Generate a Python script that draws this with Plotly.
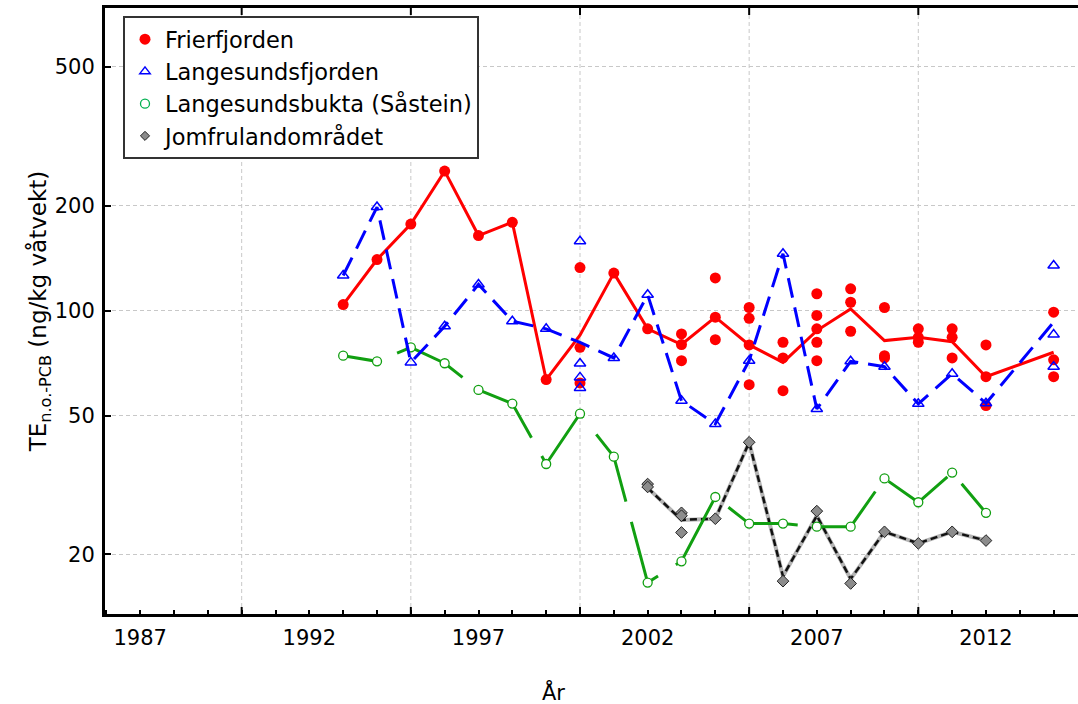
import plotly.graph_objects as go

# ---------------- data ----------------
line_years = [1993, 1994, 1995, 1996, 1997, 1998, 1999, 2000, 2001, 2002, 2003,
              2004, 2005, 2006, 2007, 2008, 2009, 2010, 2011, 2012, 2014]

# Frierfjorden: yearly mean line + individual samples
fr_line = [104, 140, 177, 251, 164, 179, 63.4, 85, 128, 88.6, 79.9,
           95.7, 79.7, 71, 87.6, 101, 82, 83.8, 81.4, 64.6, 75.9]
fr_pts_year = [1993, 1994, 1995, 1996, 1997, 1998, 1999,
               2000, 2000, 2000, 2001, 2002,
               2003, 2003, 2003, 2004, 2004, 2004,
               2005, 2005, 2005, 2005, 2006, 2006, 2006,
               2007, 2007, 2007, 2007, 2007, 2008, 2008, 2008,
               2009, 2009, 2009, 2010, 2010, 2010, 2011, 2011, 2011,
               2012, 2012, 2012, 2014, 2014, 2014]
fr_pts_val = [104, 140, 177, 251, 164, 179, 63.4,
              132.8, 78.4, 62, 128, 88.6,
              85.7, 79.9, 71.8, 124, 95.7, 82.5,
              102, 95, 79.7, 61.3, 81.1, 73.1, 58.9,
              111.7, 96.8, 88.6, 81.1, 71.8, 115.4, 105.6, 87.2,
              102, 74.2, 73.1, 88.6, 83.8, 81.1, 88.6, 83.8, 73.1,
              79.7, 64.6, 53.4, 98.9, 72.2, 64.6]

# Langesundsfjorden
lf_line = [126, 198, 71, 90.1, 118.8, 93.2, 88.6, 81, 73.1, 111, 55.1,
           47.3, 71.8, 145.5, 52.2, 71.5, 69.0, 54.0, 65.9, 54.2, 92.6]
lf_pts_year = [1993, 1994, 1995, 1996, 1997, 1998, 1999,
               2000, 2000, 2000, 2000, 2001, 2002, 2003, 2004, 2005,
               2006, 2007, 2008, 2009, 2010, 2011, 2012, 2014, 2014, 2014]
lf_pts_val = [126, 198, 71, 90.1, 118.8, 93.2, 88.6,
              158, 70.5, 64.3, 60, 73.1, 111, 55.1, 47.3, 71.8,
              145.5, 52.2, 71.5, 69.0, 54.0, 65.9, 54.2, 134.6, 85.3, 69]

# Langesundsbukta (Såstein)
lb_years = [1993, 1994, 1995, 1996, 1997, 1998, 1999, 2000, 2001, 2002,
            2003, 2004, 2005, 2006, 2007, 2008, 2009, 2010, 2011, 2012]
lb_vals = [74.2, 71.5, 78.4, 70.6, 59.2, 54.1, 36.3, 50.6, 38.1, 16.6,
           19.1, 29.2, 24.5, 24.5, 24.0, 24.0, 33.0, 28.2, 34.3, 26.3]

# Jomfrulandområdet
jm_years = [2002, 2003, 2004, 2005, 2006, 2007, 2008, 2009, 2010, 2011, 2012]
jm_line = [31.0, 25.1, 25.3, 41.9, 17.3, 25.8, 17.0, 23.2, 21.5, 23.2, 21.9]
jm_pts_year = [2002, 2002, 2003, 2003, 2003, 2004, 2005, 2006, 2007, 2008,
               2009, 2010, 2011, 2012]
jm_pts_val = [31.8, 31.2, 26.3, 25.8, 23.1, 25.3, 41.9, 16.75, 26.6, 16.5,
              23.2, 21.5, 23.2, 21.9]

label_years = [1987, 1992, 1997, 2002, 2007, 2012]
grid_years = [1990, 1995, 2000, 2005, 2010]
all_years = list(range(1986, 2015))
y_ticks = [20, 50, 100, 200, 500]

names = ["Frierfjorden", "Langesundsfjorden", "Langesundsbukta (Såstein)",
         "Jomfrulandområdet"]
x_title = "År"
y_title = "TE<sub>n.o.-PCB</sub> (ng/kg våtvekt)"

# ---------------- styling ----------------
FONT = "DejaVu Sans"
RED = "#ff0000"
BLUE = "#0000ff"
GREEN = "#119f11"
X_RANGE = [1985.96, 2014.72]
Y_RANGE = [1.1299, 2.8673]
GRID = "#c8c8c8"
green_dash = "35px,21px," + ",".join(["75px,21px"] * 20)

fig = go.Figure()

# legend-only entries (marker symbols as in the reference legend)
fig.add_trace(go.Scatter(x=[None], y=[None], mode="markers", name=names[0],
                         marker=dict(symbol="circle", size=11, color=RED)))
fig.add_trace(go.Scatter(x=[None], y=[None], mode="markers", name=names[1],
                         marker=dict(symbol="triangle-up-open", size=9, color=BLUE,
                                     line=dict(width=1.5, color=BLUE))))
fig.add_trace(go.Scatter(x=[None], y=[None], mode="markers", name=names[2],
                         marker=dict(symbol="circle", size=9, color="white",
                                     line=dict(width=1.3, color="#00b050"))))
fig.add_trace(go.Scatter(x=[None], y=[None], mode="markers", name=names[3],
                         marker=dict(symbol="diamond", size=7, color="#8c8c8c",
                                     line=dict(width=1, color="#222222"))))

# Jomfrulandområdet
fig.add_trace(go.Scatter(x=jm_years, y=jm_line, mode="lines", showlegend=False,
                         line=dict(color="#b4b4b4", width=4)))
fig.add_trace(go.Scatter(x=jm_years, y=jm_line, mode="lines", showlegend=False,
                         line=dict(color="#111111", width=2.5, dash="7px,4px")))
fig.add_trace(go.Scatter(x=jm_pts_year, y=jm_pts_val, mode="markers", showlegend=False,
                         marker=dict(symbol="diamond", size=9, color="#8c8c8c",
                                     line=dict(width=1, color="#222222"))))

# Langesundsbukta
fig.add_trace(go.Scatter(x=lb_years, y=lb_vals, mode="lines", showlegend=False,
                         line=dict(color=GREEN, width=3, dash=green_dash)))
fig.add_trace(go.Scatter(x=lb_years, y=lb_vals, mode="markers", showlegend=False,
                         marker=dict(symbol="circle", size=9, color="white",
                                     line=dict(width=1.3, color=GREEN))))

# Frierfjorden
fig.add_trace(go.Scatter(x=line_years, y=fr_line, mode="lines", showlegend=False,
                         line=dict(color=RED, width=3)))
fig.add_trace(go.Scatter(x=fr_pts_year, y=fr_pts_val, mode="markers", showlegend=False,
                         marker=dict(symbol="circle", size=11, color=RED)))

# Langesundsfjorden
fig.add_trace(go.Scatter(x=line_years, y=lf_line, mode="lines", showlegend=False,
                         line=dict(color=BLUE, width=3, dash="20px,10px")))
fig.add_trace(go.Scatter(x=lf_pts_year, y=lf_pts_val, mode="markers", showlegend=False,
                         marker=dict(symbol="triangle-up-open", size=10, color=BLUE,
                                     line=dict(width=1.5, color=BLUE))))

# vertical grid lines + long major ticks (bottom and top) at the grid years
shapes = []
for gy in grid_years:
    shapes.append(dict(type="line", xref="x", yref="paper", x0=gy, x1=gy, y0=0, y1=1,
                       layer="below", line=dict(color=GRID, width=1, dash="4px,3px")))
    shapes.append(dict(type="line", xref="x", yref="paper", ysizemode="pixel", yanchor=0,
                       x0=gy, x1=gy, y0=0, y1=7, layer="above",
                       line=dict(color="black", width=2)))
    shapes.append(dict(type="line", xref="x", yref="paper", ysizemode="pixel", yanchor=1,
                       x0=gy, x1=gy, y0=0, y1=-7, layer="above",
                       line=dict(color="black", width=2)))

fig.update_layout(
    width=1078, height=704, autosize=False,
    margin=dict(l=105, r=0, t=8, b=90),
    paper_bgcolor="white", plot_bgcolor="white",
    font=dict(family=FONT, size=21, color="black"),
    showlegend=True,
    legend=dict(x=(123 - 105) / 973, y=(614 - 16) / 606, xanchor="left", yanchor="top",
                bgcolor="white", bordercolor="#333333", borderwidth=2,
                font=dict(family=FONT, size=22.5, color="black")),
    xaxis=dict(range=X_RANGE, tickmode="array", tickvals=label_years,
               ticktext=[str(v) for v in label_years],
               ticks="inside", ticklen=4, tickwidth=2, tickcolor="black",
               showgrid=False, zeroline=False, showline=True, linewidth=3,
               linecolor="black", mirror=True, ticklabelstandoff=3,
               tickfont=dict(family=FONT, size=21),
               minor=dict(tickmode="array", tickvals=all_years, ticks="inside",
                          ticklen=4, tickwidth=2, tickcolor="black", showgrid=False)),
    yaxis=dict(type="log", range=Y_RANGE, tickmode="array", tickvals=y_ticks,
               ticktext=[str(v) for v in y_ticks], ticks="inside", ticklen=6,
               tickwidth=2, tickcolor="black", showgrid=True, gridcolor=GRID,
               gridwidth=1, griddash="4px,3px", zeroline=False, showline=True,
               linewidth=3, linecolor="black", mirror=False, ticklabelstandoff=3,
               tickfont=dict(family=FONT, size=21),
               title=dict(text=y_title, standoff=2, font=dict(family=FONT, size=23))),
    shapes=shapes,
    annotations=[
        dict(text=x_title, xref="paper", yref="paper", x=(553 - 105) / 973,
             y=(614 - 692) / 606, xanchor="center", yanchor="middle",
             showarrow=False, font=dict(family=FONT, size=21)),
    ],
)

fig.write_html("out.html")
